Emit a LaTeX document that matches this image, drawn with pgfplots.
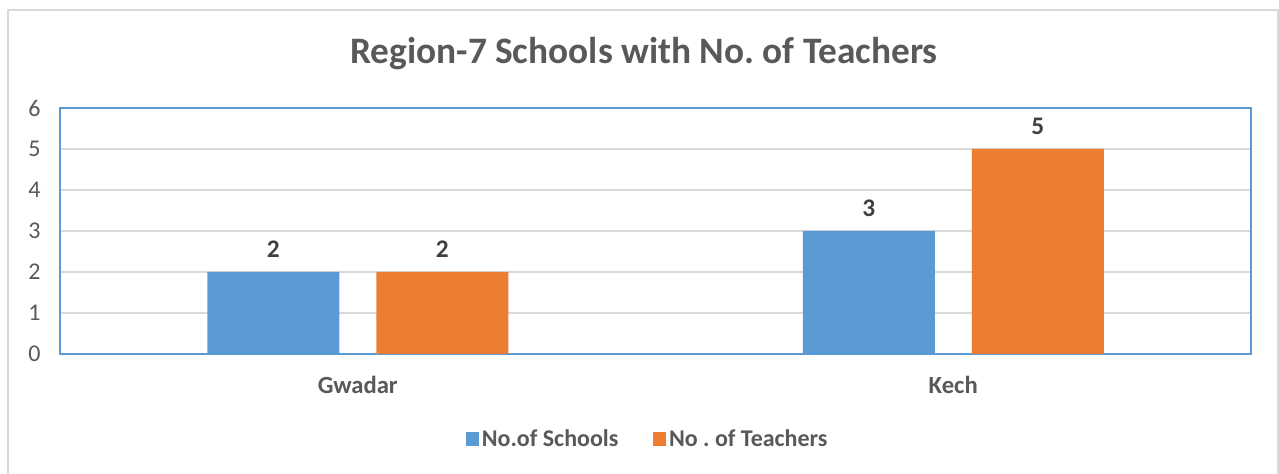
\documentclass[border=0pt]{standalone}
\usepackage{pgfplots}
\pgfplotsset{compat=1.18}
\usepackage{fontspec}
\setmainfont{Carlito}
\frenchspacing
\definecolor{cblue}{HTML}{5B9BD5}
\definecolor{corange}{HTML}{ED7D31}
\definecolor{ctext}{HTML}{595959}
\definecolor{cgrid}{HTML}{D9D9D9}
\begin{document}
\begin{tikzpicture}[x=0.75pt,y=0.75pt]
\path[use as bounding box] (0,0) rectangle (1279,474);
\draw[cgrid,line width=1.5pt] (8,-5) -- (8,464) -- (1278,464) -- (1278,-5);
\node[font=\fontsize{28}{32}\selectfont\bfseries,text=ctext] at (644,420) {Region-7 Schools with No.\ of Teachers};
\begin{axis}[
  at={(45pt,90pt)}, anchor=south west,
  scale only axis, width=893.25pt, height=184.5pt,
  xmin=0, xmax=2, ymin=0, ymax=6,
  ytick={0,1,...,6},
  xtick={0.5,1.5}, xticklabels={Gwadar,Kech},
  ybar=27.75pt, bar width=99pt,
  axis line style={cblue,line width=1.2pt},
  ymajorgrids, grid style={cgrid,line width=0.9pt},
  major tick length=0pt,
  tick label style={text=ctext},
  yticklabel style={font=\fontsize{18}{21}\selectfont,xshift=-11pt},
  xticklabel style={font=\fontsize{18.5}{21}\selectfont\bfseries,yshift=-13pt},
  /pgf/number format/assume math mode=true,
  nodes near coords,
  every node near coord/.append style={font=\fontsize{19}{22}\selectfont\bfseries,text=black!75,yshift=7pt},
  legend style={at={(0.4937,-0.3455)},anchor=center,draw=none,
    legend columns=2,font=\fontsize{18}{21}\selectfont\bfseries,text=ctext,
    /tikz/every even column/.append style={column sep=24pt}},
  legend image code/.code={\fill[#1] (0pt,-5pt) rectangle (10pt,5pt);},
]
\addplot[fill=cblue,draw=none] coordinates {(0.5,2) (1.5,3)};
\addplot[fill=corange,draw=none] coordinates {(0.5,2) (1.5,5)};
\legend{No.of Schools,No . of Teachers}
\end{axis}
\end{tikzpicture}
\end{document}
